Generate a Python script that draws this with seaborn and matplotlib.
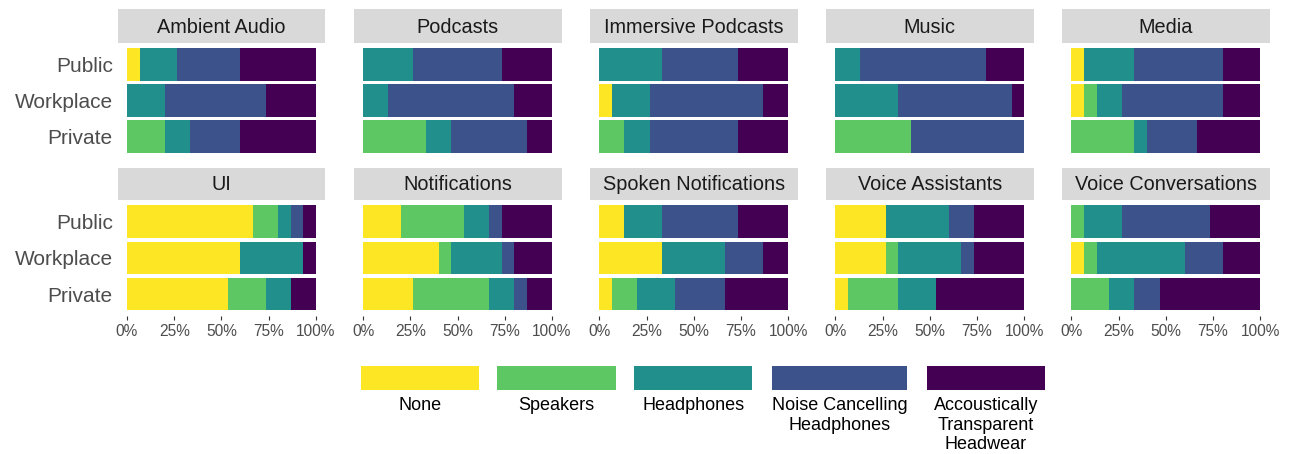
import numpy as np
import pandas as pd
import matplotlib
matplotlib.use("Agg")
import matplotlib.pyplot as plt
from matplotlib.patches import Rectangle
import seaborn as sns

# ---------------- data (participant counts out of 15) ----------------
contexts = ["Public", "Workplace", "Private"]
devices = ["None", "Speakers", "Headphones", "Noise Cancelling\nHeadphones",
           "Accoustically\nTransparent\nHeadwear"]
apps = ["Ambient Audio", "Podcasts", "Immersive Podcasts", "Music", "Media",
        "UI", "Notifications", "Spoken Notifications", "Voice Assistants",
        "Voice Conversations"]

# rows: Public, Workplace, Private ; columns: None, Speakers, Headphones, NC Headphones, AT Headwear
ambient_audio = [[1, 0, 3, 5, 6], [0, 0, 3, 8, 4], [0, 3, 2, 4, 6]]
podcasts = [[0, 0, 4, 7, 4], [0, 0, 2, 10, 3], [0, 5, 2, 6, 2]]
immersive_podcasts = [[0, 0, 5, 6, 4], [1, 0, 3, 9, 2], [0, 2, 2, 7, 4]]
music = [[0, 0, 2, 10, 3], [0, 0, 5, 9, 1], [0, 6, 0, 9, 0]]
media = [[1, 0, 4, 7, 3], [1, 1, 2, 8, 3], [0, 5, 1, 4, 5]]
ui = [[10, 2, 1, 1, 1], [9, 0, 5, 0, 1], [8, 3, 2, 0, 2]]
notifications = [[3, 5, 2, 1, 4], [6, 1, 4, 1, 3], [4, 6, 2, 1, 2]]
spoken_notifications = [[2, 0, 3, 6, 4], [5, 0, 5, 3, 2], [1, 2, 3, 4, 5]]
voice_assistants = [[4, 0, 5, 2, 4], [4, 1, 5, 1, 4], [1, 4, 3, 0, 7]]
voice_conversations = [[0, 1, 3, 7, 4], [1, 1, 7, 3, 3], [0, 3, 2, 2, 8]]

app_counts = [ambient_audio, podcasts, immersive_podcasts, music, media,
              ui, notifications, spoken_notifications, voice_assistants,
              voice_conversations]

colors = ["#FDE725", "#5DC863", "#21908C", "#3B528B", "#440154"]

# ---------------- layout helpers ----------------
W, H = 1290, 454
plt.rcParams["font.family"] = ["Liberation Sans", "DejaVu Sans"]
fig = plt.figure(figsize=(W / 100, H / 100), dpi=100)


def px_axes(x0, y0, x1, y1):
    return fig.add_axes([x0 / W, 1 - y1 / H, (x1 - x0) / W, (y1 - y0) / H])


col_left = [117.5, 353.6, 589.8, 825.8, 1061.9]
pan_w = 207.9
rows = [(9.3, 42.7, 158.4), (167.7, 200.0, 315.7)]  # strip top, panel top, panel bottom

tick_col = "#4D4D4D"

for i, (app, counts) in enumerate(zip(apps, app_counts)):
    r, c = divmod(i, 5)
    st, pt, pb = rows[r]
    x0 = col_left[c]
    x1 = x0 + pan_w

    arr = np.array(counts, dtype=float)
    props = arr / arr.sum(axis=1, keepdims=True)
    cum = np.cumsum(props, axis=1)

    ax = px_axes(x0, pt, x1, pb)
    for k in range(4, -1, -1):
        df = pd.DataFrame({"context": contexts, "value": cum[:, k]})
        sns.barplot(data=df, x="value", y="context", order=contexts,
                    color=colors[k], saturation=1, width=0.9, orient="h",
                    errorbar=None, linewidth=0, ax=ax)
    ax.set_xlim(-0.05, 1.05)
    ax.set_ylim(2.6, -0.6)
    ax.set_xlabel("")
    ax.set_ylabel("")
    for s in ax.spines.values():
        s.set_visible(False)
    ax.set_xticks([0, 0.25, 0.5, 0.75, 1.0])
    if r == 1:
        ax.set_xticklabels(["0%", "25%", "50%", "75%", "100%"])
        ax.tick_params(axis="x", length=3.2, width=0.8, color="#333333",
                       labelsize=11.2, labelcolor=tick_col, pad=2.5)
    else:
        ax.tick_params(axis="x", length=0, labelbottom=False)
    if c == 0:
        ax.tick_params(axis="y", length=0, labelsize=15, labelcolor=tick_col, pad=3.5)
    else:
        ax.tick_params(axis="y", length=0, labelleft=False)

    # strip
    sax = px_axes(x0, st, x1, pt)
    sax.set_facecolor("#D9D9D9")
    sax.set_xticks([])
    sax.set_yticks([])
    for s in sax.spines.values():
        s.set_visible(False)
    sax.text(0.5, 0.47, app, ha="center", va="center", fontsize=14.3,
             color="#1A1A1A", transform=sax.transAxes)

# ---------------- legend (keys above labels) ----------------
key_x = [(361, 479), (497, 615.5), (634, 752.3), (771.5, 907.5), (926.8, 1045)]
key_top, key_bot = 366, 390
for (a, b), col, lab in zip(key_x, colors, devices):
    fig.add_artist(Rectangle((a / W, 1 - key_bot / H), (b - a) / W,
                             (key_bot - key_top) / H, transform=fig.transFigure,
                             facecolor=col, edgecolor="none"))
    fig.text((a + b) / 2 / W, 1 - 397 / H, lab, ha="center", va="top",
             fontsize=13, color="black", linespacing=1.2, multialignment="center")

fig.savefig("out.png", dpi=100, facecolor="white")
